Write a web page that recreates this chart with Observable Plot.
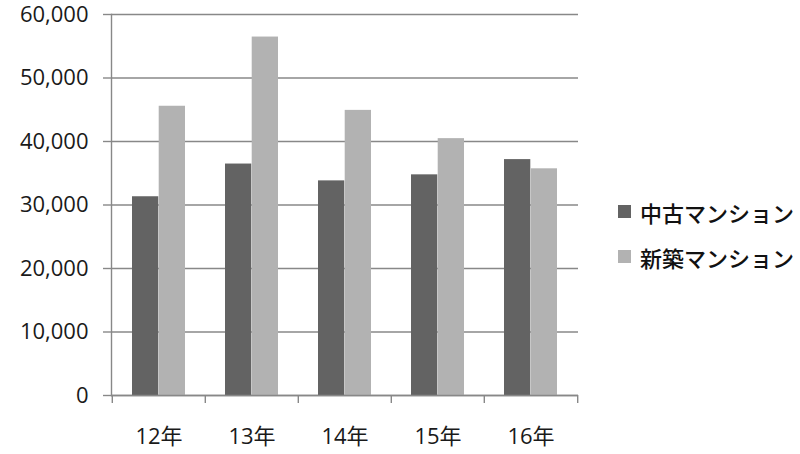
<!DOCTYPE html>
<html>
<head>
<meta charset="utf-8">
<script src="https://cdn.jsdelivr.net/npm/d3@7"></script>
<script src="https://cdn.jsdelivr.net/npm/@observablehq/plot@0.6"></script>
<style>
  html, body { margin: 0; padding: 0; background: #fff; }
  #wrap { position: relative; width: 800px; height: 454px; font-family: "Open Sans", "Noto Sans CJK JP", sans-serif; }
  #wrap svg { overflow: visible; }
  #legend { position: absolute; left: 618px; top: 189px; font-size: 22px; color: #111; font-family: "Noto Sans CJK JP", sans-serif; font-weight: 500; }
  .item { display: flex; align-items: center; height: 45px; }
  .sw { width: 13px; height: 13px; margin-right: 9px; }
</style>
</head>
<body>
<div id="wrap"></div>
<script>
const years = ["12年", "13年", "14年", "15年", "16年"];
const seriesNames = ["中古マンション", "新築マンション"];
const usedValues = [31300, 36450, 33800, 34750, 37150];
const newValues = [45550, 56450, 44900, 40450, 35700];
const seriesColors = ["#636363", "#b2b2b2"];
const yTicks = [0, 10000, 20000, 30000, 40000, 50000, 60000];

const usedData = years.map((y, i) => ({year: y, value: usedValues[i], series: seriesNames[0]}));
const newData = years.map((y, i) => ({year: y, value: newValues[i], series: seriesNames[1]}));

const W = 800, H = 454, mL = 111, mR = 222, mT = 14, mB = 59;
const band = (W - mL - mR) / years.length;
const gap = 20;
const barW = (band - 2 * gap) / 2;

const chart = Plot.plot({
  width: W, height: H,
  marginLeft: mL, marginRight: mR, marginTop: mT, marginBottom: mB,
  style: {fontFamily: '"Open Sans", "Noto Sans CJK JP", sans-serif', fontSize: "22px", color: "#1a1a1a", background: "#fff", overflow: "visible"},
  x: {domain: years, padding: 0, label: null},
  y: {domain: [0, 60000], label: null},
  marks: [
    Plot.gridY(yTicks, {stroke: "#888", strokeOpacity: 1, strokeWidth: 1.4}),
    Plot.barY(usedData, {x: "year", y: "value", fill: seriesColors[0], insetLeft: gap, insetRight: gap + barW}),
    Plot.barY(newData, {x: "year", y: "value", fill: seriesColors[1], insetLeft: gap + barW, insetRight: gap}),
    Plot.gridY(yTicks.filter(d => d === 0), {stroke: "#888", strokeOpacity: 1, strokeWidth: 1.4}),
    Plot.frame({anchor: "left", stroke: "#888", strokeWidth: 1.4}),
    Plot.axisY(yTicks, {tickSize: 8, tickPadding: 15, stroke: "#888", strokeWidth: 1.4, fill: "#1a1a1a", tickFormat: d3.format(","), fontSize: 22}),
    Plot.ruleX(years, {x: d => d, y1: 0, y2: 0, dx: -band / 2, insetBottom: -8, stroke: "#888", strokeWidth: 1.4}),
    Plot.ruleX(years.slice(-1), {x: d => d, y1: 0, y2: 0, dx: band / 2, insetBottom: -8, stroke: "#888", strokeWidth: 1.4}),
    Plot.axisX({tickSize: 0, tickPadding: 33, fill: "#1a1a1a", fontSize: 22})
  ]
});
document.getElementById("wrap").appendChild(chart);

const legend = document.createElement("div");
legend.id = "legend";
seriesNames.forEach((name, i) => {
  const item = document.createElement("div");
  item.className = "item";
  const sw = document.createElement("span");
  sw.className = "sw";
  sw.style.background = seriesColors[i];
  const t = document.createElement("span");
  t.textContent = name;
  item.appendChild(sw); item.appendChild(t);
  legend.appendChild(item);
});
document.getElementById("wrap").appendChild(legend);
</script>
</body>
</html>
